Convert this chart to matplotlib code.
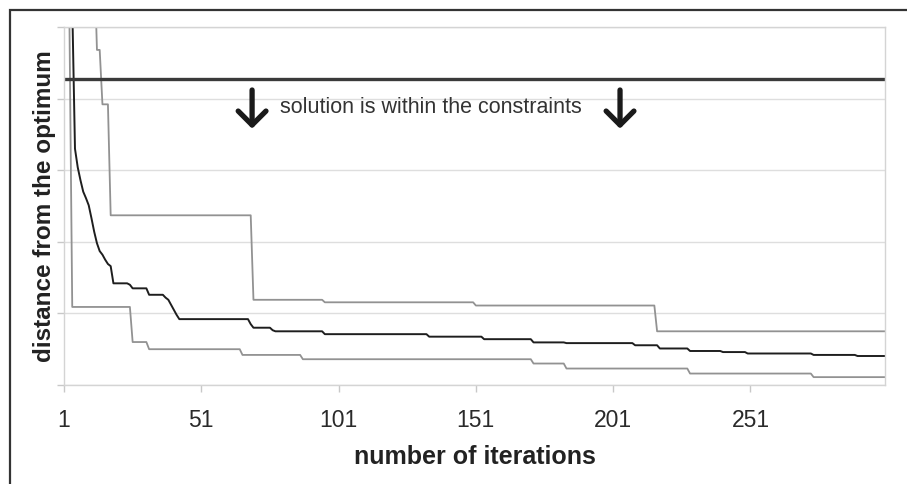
"""Convergence of the optimiser: best / median / worst distance from the optimum per iteration."""
import matplotlib
matplotlib.use("Agg")
import matplotlib.pyplot as plt
import numpy as np

plt.rcParams["font.family"] = ["Liberation Sans", "DejaVu Sans"]

N_ITER = 300
# each series is stored as the iterations where its value changes, with the new value
worst_at = [1, 13, 15, 18, 70, 96, 151, 217]
worst_val = [6.0, 4.68, 3.92, 2.37, 1.19, 1.155, 1.11, 0.75]

median_at = [1, 2, 3, 4, 5, 6, 7, 8, 9, 10, 11, 12, 13, 14, 15, 16, 17, 18, 19, 25, 26,
             32, 38, 39, 40, 41, 42, 43, 69, 70, 77, 78, 96, 134, 154, 172, 184, 209, 218,
             229, 241, 250, 274, 290]
median_val = [12.0, 9.0, 7.0, 5.3, 3.3, 3.04, 2.86, 2.70, 2.61, 2.51, 2.33, 2.14, 1.98, 1.87,
              1.82, 1.75, 1.69, 1.66, 1.42, 1.40, 1.35, 1.26, 1.22, 1.19, 1.12, 1.05, 0.98,
              0.92, 0.85, 0.80, 0.765, 0.75, 0.71, 0.675, 0.64, 0.595, 0.585, 0.555, 0.51,
              0.475, 0.46, 0.44, 0.42, 0.405]

best_at = [1, 2, 3, 4, 26, 32, 66, 88, 172, 184, 229, 274]
best_val = [12.0, 8.0, 5.0, 1.09, 0.60, 0.50, 0.42, 0.36, 0.30, 0.23, 0.16, 0.11]

constraint_limit = 4.27
tick_iters = [1, 51, 101, 151, 201, 251]


def expand(at, vals, n=N_ITER):
    out = np.empty(n)
    for i, (s, v) in enumerate(zip(at, vals)):
        e = at[i + 1] if i + 1 < len(at) else n + 1
        out[s - 1:e - 1] = v
    return out


x = np.arange(1, N_ITER + 1)
fig = plt.figure(figsize=(9.07, 4.84), dpi=100)
ax = fig.add_axes([64 / 907, 1 - 385 / 484, 821 / 907, 358 / 484])

ax.plot(x, expand(worst_at, worst_val), color="#929292", lw=1.3)
ax.plot(x, expand(best_at, best_val), color="#929292", lw=1.3)
ax.plot(x, expand(median_at, median_val), color="#1e1e1e", lw=1.4)
ax.axhline(constraint_limit, color="#3a3a3a", lw=2.4)

arrow = dict(arrowstyle="->,head_length=0.5,head_width=0.5", lw=3.8, color="#1a1a1a",
             mutation_scale=20, shrinkA=0, shrinkB=0)
for xa in (69.5, 203.5):
    ax.annotate("", xy=(xa, 3.58), xytext=(xa, 4.12), arrowprops=arrow)
ax.text(79.5, 3.88, "solution is within the constraints", fontsize=15.5, color="#333333",
        va="center", ha="left")

ax.set_xlim(1, N_ITER)
ax.set_ylim(0, 5)
ax.set_yticks(range(6))
ax.set_yticklabels([])
ax.set_xticks(tick_iters)
ax.set_xticklabels([str(t) for t in tick_iters], fontsize=16.5, color="#2a2a2a")
ax.grid(axis="y", color="#dedede", lw=1)
ax.set_axisbelow(True)
for s in ax.spines.values():
    s.set_color("#d4d4d4")
    s.set_linewidth(1)
ax.tick_params(axis="both", color="#c8c8c8", length=5, width=1)
ax.tick_params(axis="x", pad=12)
ax.set_xlabel("number of iterations", fontsize=18, fontweight="bold", color="#222222",
              labelpad=10)
ax.set_ylabel("distance from the optimum", fontsize=17.5, fontweight="bold",
              color="#222222")
ax.yaxis.set_label_coords(-0.01, 0.5)

# frame around the whole figure, open to the right and bottom
fig.add_artist(plt.Rectangle((10 / 907, -0.1), 1.2, 1 - 10.5 / 484 + 0.1,
                             transform=fig.transFigure, fill=False, ec="#333333", lw=1.6))

fig.savefig("out.png", dpi=100)
print("wrote out.png")
